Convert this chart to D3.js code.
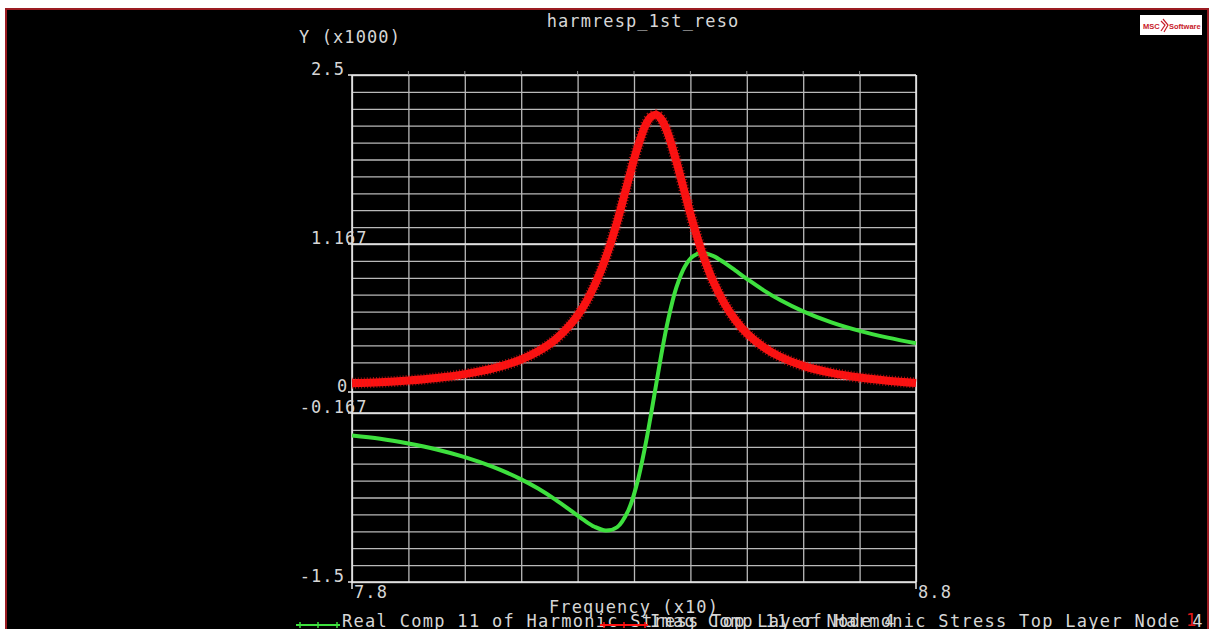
<html lang="en">
<head>
  <meta charset="UTF-8"/>
  <title>harmresp_1st_reso</title>
  <script src="https://d3js.org/d3.v7.min.js"></script>
  <style>
    body { margin: 0; background: #fff; }
    svg { display: block; }
    text {
      font-family: 'DejaVu Sans Mono', 'Liberation Mono', monospace;
      font-size: 17px;
      letter-spacing: 1.1px;
      fill: #d6d6d6;
    }
    .grid line { stroke: #b9b9b9; stroke-width: 1.3; }
    .grid path { display: none; }
  </style>
</head>
<body>
  <svg width="1212" height="629"></svg>

  <script>
  // frequency in Hz (axis shows x10), stress values (axis shows x1000)
  const freqs = [78, 78.5, 79, 79.5, 80, 80.5, 81, 81.3, 81.6, 81.9, 82.1, 82.3, 82.5, 82.7, 82.9,
    83.05, 83.2, 83.3, 83.4, 83.5, 83.6, 83.75, 83.9, 84.05, 84.2, 84.4, 84.6, 84.8, 85,
    85.3, 85.6, 86, 86.5, 87, 87.5, 88];

  const realComp = [-345, -370, -408, -455, -515, -592, -690, -763, -848, -943, -1008, -1064, -1094, -1068, -934,
    -729, -425, -181, 78, 331, 558, 822, 988, 1071, 1095, 1073, 1020, 956, 892,
    801, 722, 635, 548, 481, 428, 384];

  const imagComp = [68, 76, 90, 110, 140, 185, 255, 320, 410, 545, 670, 840, 1060, 1340, 1670,
    1910, 2100, 2170, 2185, 2140, 2040, 1820, 1570, 1325, 1110, 875, 700, 565, 462,
    352, 275, 205, 150, 113, 88, 70];

  const yTickValues = [2500, 1166.7, 0, -166.7, -1500];
  const yTickLabels = ['2.5', '1.167', '0', '-0.167', '-1.5'];
  const xTickValues = [78, 88];
  const xTickLabels = ['7.8', '8.8'];
  const seriesNames = [
    'Real Comp 11 of Harmonic Stress Top Layer Node 4',
    'Imag Comp 11 of Harmonic Stress Top Layer Node 4'
  ];
  const seriesColors = ['#3ee03e', '#ff1010'];

  const svg = d3.select('svg');

  const plotLeft = 352, plotRight = 916, plotTop = 75, plotBottom = 582;
  const charW = 11.33;

  // black screen with red frame
  svg.append('rect')
    .attr('x', 6).attr('y', 9)
    .attr('width', 1202).attr('height', 630)
    .attr('fill', '#000')
    .attr('stroke', '#9b1c22')
    .attr('stroke-width', 2);

  const x = d3.scaleLinear().domain([78, 88]).range([plotLeft, plotRight]);
  const y = d3.scaleLinear().domain([-1500, 2500]).range([plotBottom, plotTop]);

  // minor horizontal grid (10 per major step), skipping the one hugging zero
  const step = 4000 / 30;
  const minorY = d3.range(0, 31).map(i => -1500 + i * step)
    .filter(v => Math.abs(v) > 50);

  svg.append('g')
    .attr('class', 'grid')
    .attr('transform', `translate(${plotLeft}, 0)`)
    .call(d3.axisLeft(y)
      .tickValues(minorY)
      .tickSize(-(plotRight - plotLeft))
      .tickFormat('')
    );

  svg.append('g')
    .attr('class', 'grid')
    .attr('transform', `translate(0, ${plotBottom})`)
    .call(d3.axisBottom(x)
      .tickValues(d3.range(78, 88.01, 1))
      .tickSize(-(plotBottom - plotTop))
      .tickFormat('')
    );

  // major lines a bit brighter
  svg.append('g')
    .selectAll('line')
    .data(yTickValues)
    .enter()
    .append('line')
    .attr('x1', plotLeft - 4)
    .attr('x2', plotRight)
    .attr('y1', d => y(d))
    .attr('y2', d => y(d))
    .attr('stroke', '#ececec')
    .attr('stroke-width', 1.5);

  svg.append('g')
    .selectAll('line')
    .data(xTickValues)
    .enter()
    .append('line')
    .attr('x1', d => x(d))
    .attr('x2', d => x(d))
    .attr('y1', plotTop)
    .attr('y2', plotBottom + 7)
    .attr('stroke', '#ececec')
    .attr('stroke-width', 1.5);

  // little ticks above the top edge
  svg.append('g')
    .selectAll('line')
    .data(d3.range(79, 88, 1))
    .enter()
    .append('line')
    .attr('x1', d => x(d))
    .attr('x2', d => x(d))
    .attr('y1', plotTop - 4)
    .attr('y2', plotTop)
    .attr('stroke', '#8a8a8a')
    .attr('stroke-width', 1);

  // y labels, lined up on the decimal point
  svg.append('g')
    .selectAll('text')
    .data(yTickValues)
    .enter()
    .append('text')
    .attr('x', (d, i) => {
      const s = yTickLabels[i];
      const dot = s.indexOf('.');
      return dot < 0 ? 337 : 328 - charW * (dot + 0.5);
    })
    .attr('y', d => y(d))
    .text((d, i) => yTickLabels[i]);

  svg.append('g')
    .selectAll('text')
    .data(xTickValues)
    .enter()
    .append('text')
    .attr('x', d => x(d) + 2)
    .attr('y', 598)
    .text((d, i) => xTickLabels[i]);

  const line = d3.line()
    .x((d, i) => x(freqs[i]))
    .y(d => y(d))
    .curve(d3.curveCatmullRom);

  svg.append('path')
    .datum(realComp)
    .attr('fill', 'none')
    .attr('stroke', seriesColors[0])
    .attr('stroke-width', 4)
    .attr('d', line);

  svg.append('path')
    .datum(imagComp)
    .attr('fill', 'none')
    .attr('stroke', seriesColors[1])
    .attr('stroke-width', 8)
    .attr('stroke-linejoin', 'round')
    .attr('d', line);

  // the original draws dense cross markers along it: fake the ragged edge
  svg.append('path')
    .datum(imagComp)
    .attr('fill', 'none')
    .attr('stroke', '#e81818')
    .attr('stroke-width', 11)
    .attr('stroke-dasharray', '1,2')
    .attr('opacity', 0.7)
    .attr('d', line);

  // titles
  svg.append('text')
    .attr('x', 643)
    .attr('y', 27)
    .attr('text-anchor', 'middle')
    .text('harmresp_1st_reso');

  svg.append('text')
    .attr('x', 299)
    .attr('y', 43)
    .text('Y (x1000)');

  svg.append('text')
    .attr('x', (plotLeft + plotRight) / 2)
    .attr('y', 613)
    .attr('text-anchor', 'middle')
    .text('Frequency (x10)');

  // legend, the two entries overlap like in the original
  const legendX = [[296, 340], [600, 648]];
  const legend = svg.append('g');
  seriesNames.forEach((name, i) => {
    const [x0, x1] = legendX[i];
    legend.append('line')
      .attr('x1', x0).attr('x2', x1)
      .attr('y1', 625).attr('y2', 625)
      .attr('stroke', seriesColors[i])
      .attr('stroke-width', 2);
    [x0 + 4, (x0 + x1) / 2, x1 - 3].forEach(mx => {
      legend.append('line')
        .attr('x1', mx).attr('x2', mx)
        .attr('y1', 622).attr('y2', 628)
        .attr('stroke', seriesColors[i])
        .attr('stroke-width', 1.5);
    });
    legend.append('text')
      .attr('x', x1 + 2)
      .attr('y', 627)
      .style('letter-spacing', '1.3px')
      .text(name);
  });

  legend.append('text')
    .attr('x', 1186)
    .attr('y', 626)
    .style('fill', '#e01818')
    .text('1');

  // MSC Software badge
  const logo = svg.append('g');
  logo.append('rect')
    .attr('x', 1140).attr('y', 15)
    .attr('width', 62).attr('height', 20)
    .attr('fill', '#fff');
  logo.append('text')
    .attr('x', 1143).attr('y', 29)
    .style('font-family', 'Liberation Sans, Arial, sans-serif')
    .style('font-size', '7.5px')
    .style('font-weight', 'bold')
    .style('letter-spacing', '0')
    .style('fill', '#c8202a')
    .text('MSC');
  logo.append('path')
    .attr('d', 'M1161,21 L1165,25 L1161,31 M1163,19 L1168,25 L1164,32')
    .attr('fill', 'none')
    .attr('stroke', '#c8202a')
    .attr('stroke-width', 1.2);
  logo.append('text')
    .attr('x', 1169).attr('y', 29)
    .style('font-family', 'Liberation Sans, Arial, sans-serif')
    .style('font-size', '7.5px')
    .style('font-weight', 'bold')
    .style('letter-spacing', '0')
    .style('fill', '#c8202a')
    .text('Software');
  </script>
</body>
</html>
